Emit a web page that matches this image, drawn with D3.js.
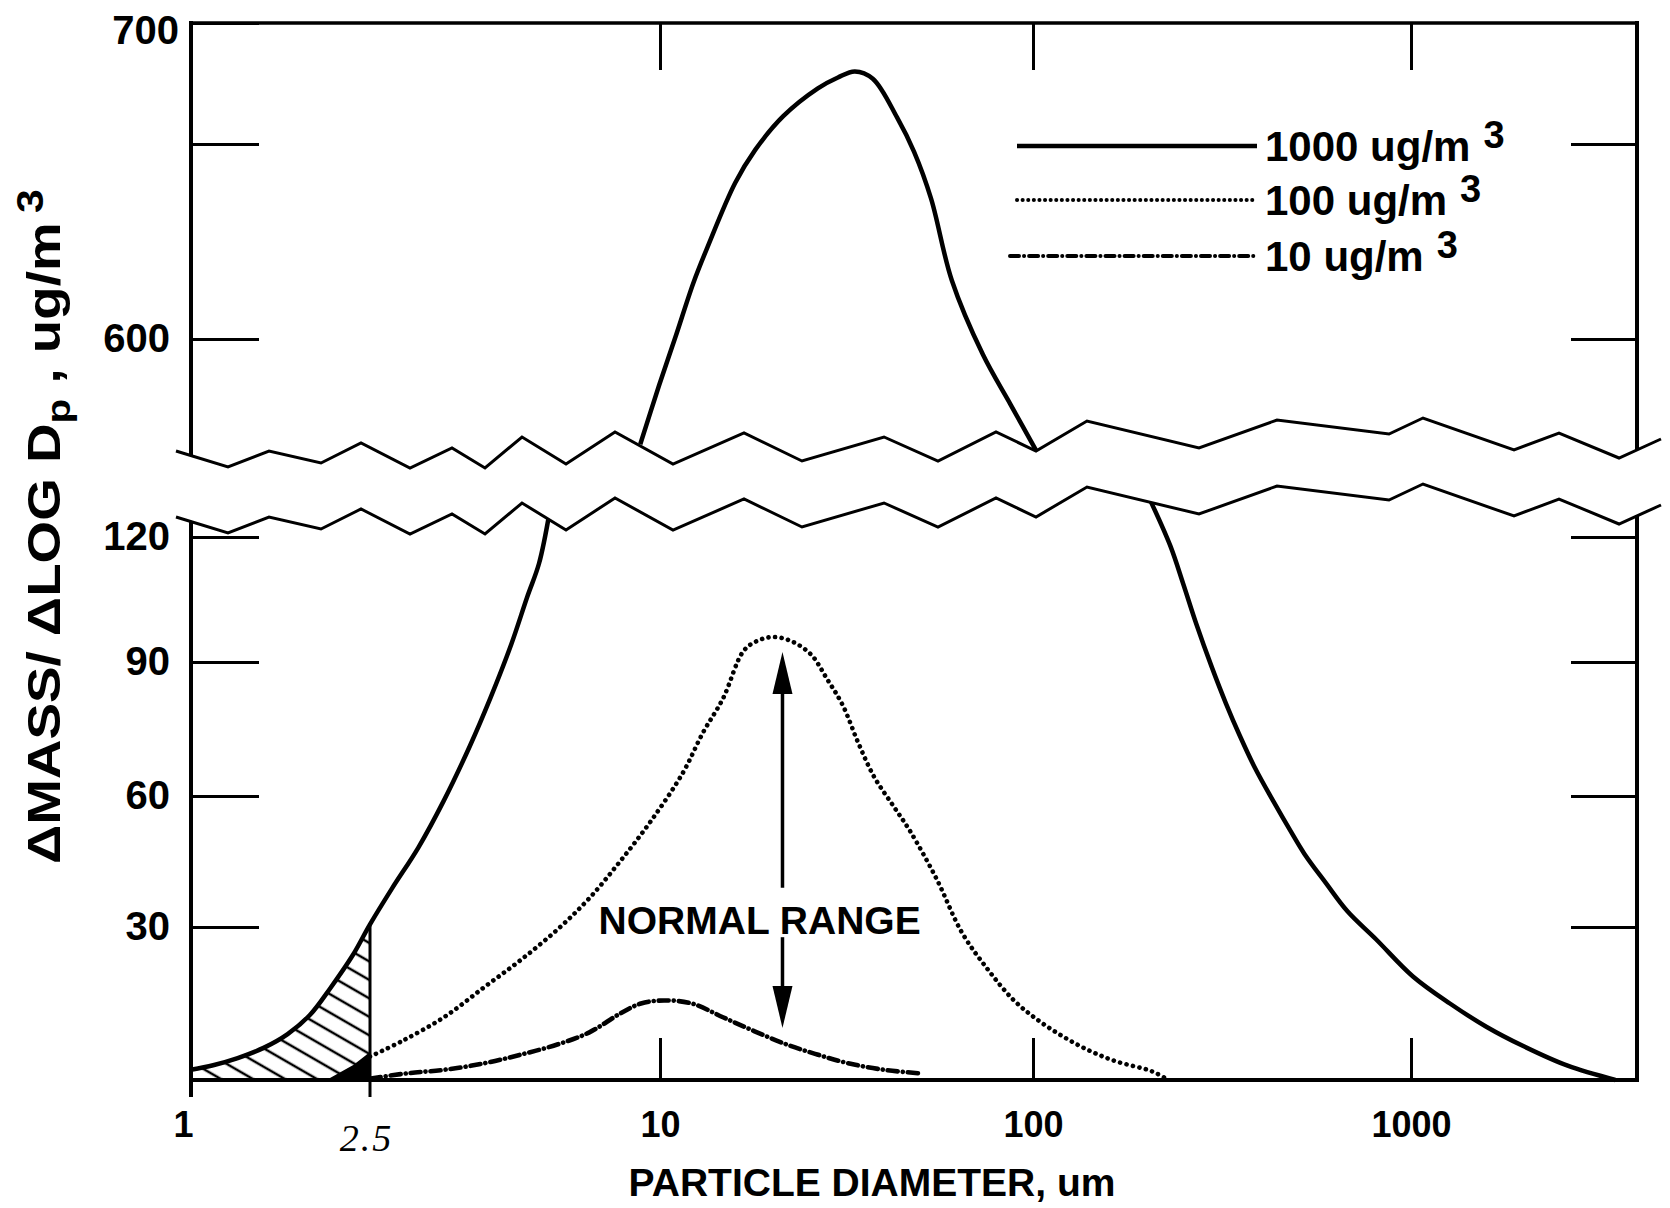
<!DOCTYPE html>
<meta charset="utf-8">

<!-- Load d3.js -->
<script src="https://d3js.org/d3.v7.min.js"></script>

<style>
  body { margin: 0; background: #fff; }
  text { font-family: "Liberation Sans", Arial, Helvetica, sans-serif; font-weight: bold; fill: #000; }
</style>

<div id="my_dataviz"></div>

<script>

// mass distribution, 1000 ug/m3 loading (diameter in um, dM/dlogDp in ug/m3)
var diam1000 = [1, 1.12, 1.27, 1.45, 1.64, 1.84, 2.04, 2.29, 2.5, 2.78, 3.15, 3.56, 4.03, 4.44, 4.91, 5.3, 5.61, 5.9,
                9.1, 9.95, 11.0, 12.3, 13.4, 15.9, 18.0, 21.4, 26.5, 30.0, 33.3, 37.2, 43.2, 48.0, 53.3, 60.6, 73.4, 87.3, 101.8,
                205, 231, 250, 270, 297, 324, 352, 387, 433, 480, 522, 595, 679, 808, 1012, 1268, 1588, 1991, 2603, 3484];
var mass1000 = [2.0, 2.9, 4.3, 6.3, 9.0, 12.8, 18.0, 24.5, 30.6, 38.9, 48.2, 59.0, 71.2, 81.8, 94.2, 105.6, 113.7, 126,
                573, 588, 600.5, 614.5, 623.5, 640, 648.5, 661.5, 673, 677.5, 680, 677, 661, 648, 636, 615, 596, 583, 571.5,
                128.5, 117.8, 108.6, 99.3, 88.9, 80.7, 73.6, 66.2, 58.7, 52.0, 46.8, 40.1, 33.6, 27.6, 20.3, 15.0, 10.4, 6.6, 2.8, 0];

// 100 ug/m3 loading
var diam100 = [2.5, 2.91, 3.56, 4.33, 5.15, 6.14, 7.12, 8.26, 9.58, 11.5, 13.04, 14.75, 16.8, 18.5, 20.2, 22.5, 25.4,
               28.0, 30.9, 34.0, 37.5, 42.4, 46.8, 55.0, 64.5, 75.8, 88.9, 103.7, 121.5, 142.4, 166.8, 206.5, 228];
var mass100 = [4.6, 7.6, 12.3, 18.3, 23.6, 29.6, 36.5, 45.0, 54.3, 65.1, 74.2, 81.8, 92.8, 95.3, 96.0, 95.0, 91.8,
               86.3, 80.3, 71.9, 64.3, 57.5, 52.0, 41.2, 28.9, 21.6, 15.6, 11.6, 8.3, 5.6, 3.6, 1.7, 0];

// 10 ug/m3 loading
var diam10 = [2.51, 2.98, 3.56, 4.33, 5.15, 6.14, 7.12, 8.26, 9.13, 10.25, 12.18, 14.75, 17.87, 21.8, 26.4, 31.9, 39.9, 49.8];
var mass10 = [0.3, 1.3, 2.0, 3.3, 5.0, 7.0, 9.3, 13.0, 15.0, 15.6, 15.0, 12.3, 9.6, 7.0, 5.0, 3.3, 2.0, 1.3];

// ink blot at the foot of the 2.5 um cut
var blobDiam = [2.0, 2.3, 2.5, 2.5];
var blobMass = [0, 3.0, 5.5, 0];

// normal range arrow (diameter, tail/tip values) and its label
var rangeDiam = 21.3;
var rangeUp = [39, 92.4];
var rangeDown = [28, 10.2];
var rangeLabel = "NORMAL RANGE";
var rangeLabelAt = [18.5, 28.6];

// axes
var xTicks = [1, 2.5, 10, 100, 1000];
var xTickLabels = ["1", "2.5", "10", "100", "1000"];
var yTicksLow = [30, 60, 90, 120];
var yTicksHigh = [600, 650, 700];
var yLabelsHigh = ["600", "", "700"];

var legendNames = ["1000 ug/m", "100 ug/m", "10 ug/m"];

// set the dimensions of the graph
var W = 1670, H = 1208;
var box = {left: 191, right: 1637, top: 23, bottom: 1080};

var svg = d3.select("#my_dataviz")
  .append("svg")
    .attr("width", W)
    .attr("height", H);

// hand-drawn log axis: decades are not quite even
var x = d3.scaleLog()
  .domain([1, 2.5, 10, 100, 1000, 4000])
  .range([box.left, 370, 660, 1033, 1411, 1638]);

// broken y axis: lower band 0-120, upper band 600-700
var yLow = d3.scaleLinear()
  .domain([0, 30, 60, 90, 120])
  .range([box.bottom, 927, 796, 662, 537]);
var yHigh = d3.scaleLinear()
  .domain([600, 650, 700])
  .range([339, 144, box.top]);

var pts1000 = d3.zip(diam1000, mass1000);
var pts100 = d3.zip(diam100, mass100);
var pts10 = d3.zip(diam10, mass10);

var smooth = d3.curveCatmullRom.alpha(0.5);

// hatched area (respirable part, below 2.5 um)
var defs = svg.append("defs");
defs.append("pattern")
    .attr("id", "hatch")
    .attr("patternUnits", "userSpaceOnUse")
    .attr("width", 40).attr("height", 16)
    .attr("patternTransform", "rotate(30)")
  .append("line")
    .attr("x1", 0).attr("x2", 40)
    .attr("y1", 8).attr("y2", 8)
    .attr("stroke", "#000")
    .attr("stroke-width", 2.6);

svg.append("path")
  .datum(pts1000.filter(function(d) { return d[0] <= 2.5; }))
  .attr("fill", "url(#hatch)")
  .attr("d", d3.area()
    .x(function(d) { return x(d[0]); })
    .y0(yLow(0))
    .y1(function(d) { return yLow(d[1]); })
    .curve(smooth));

svg.append("path")
  .datum(d3.zip(blobDiam, blobMass))
  .attr("fill", "#000")
  .attr("d", d3.line()
    .x(function(d) { return x(d[0]); })
    .y(function(d) { return yLow(d[1]); })
    .curve(d3.curveLinearClosed));

// 2.5 um cut line
svg.append("line")
  .attr("x1", x(2.5)).attr("x2", x(2.5))
  .attr("y1", box.bottom + 17)
  .attr("y2", yLow(mass1000[diam1000.indexOf(2.5)]))
  .attr("stroke", "#000")
  .attr("stroke-width", 3);

// the three distributions
var lowLine = d3.line()
  .defined(function(d) { return d[1] < 300; })
  .x(function(d) { return x(d[0]); })
  .y(function(d) { return yLow(d[1]); })
  .curve(smooth);
var highLine = d3.line()
  .defined(function(d) { return d[1] >= 300; })
  .x(function(d) { return x(d[0]); })
  .y(function(d) { return yHigh(d[1]); })
  .curve(smooth);

var styles = [
  {dash: null, width: 4.5, cap: "butt"},
  {dash: "0.1,6.5", width: 4.6, cap: "round"},
  {dash: "10,5,0.1,5", width: 4.6, cap: "round"}
];

[pts1000, pts100, pts10].forEach(function(pts, i) {
  [lowLine, highLine].forEach(function(gen) {
    svg.append("path")
      .datum(pts)
      .attr("fill", "none")
      .attr("stroke", "#000")
      .attr("stroke-width", styles[i].width)
      .attr("stroke-dasharray", styles[i].dash)
      .attr("stroke-linecap", styles[i].cap)
      .attr("stroke-linejoin", "round")
      .attr("d", gen);
  });
});

// frame
var frame = svg.append("g").attr("stroke", "#000").attr("fill", "none");
frame.append("line").attr("x1", box.left).attr("x2", box.right).attr("y1", box.top).attr("y2", box.top).attr("stroke-width", 3.5);
frame.append("line").attr("x1", box.left).attr("x2", box.right + 2).attr("y1", box.bottom).attr("y2", box.bottom).attr("stroke-width", 4);
frame.append("line").attr("x1", box.left).attr("x2", box.left).attr("y1", box.top - 2).attr("y2", box.bottom + 17).attr("stroke-width", 4);
frame.append("line").attr("x1", box.right).attr("x2", box.right).attr("y1", box.top - 2).attr("y2", box.bottom + 2).attr("stroke-width", 4);

// tick marks and labels
function styleAxis(g) {
  g.select(".domain").remove();
  g.selectAll(".tick line").attr("stroke", "#000").attr("stroke-width", 3);
  g.selectAll(".tick text")
    .style("font-family", "'Liberation Sans', Arial, sans-serif")
    .style("font-weight", "bold")
    .style("font-size", "36px")
    .attr("fill", "#000");
}

svg.append("g")
  .attr("transform", "translate(" + box.left + ",0)")
  .call(d3.axisLeft(yLow).tickValues(yTicksLow).tickSize(-68).tickPadding(21))
  .call(styleAxis)
  .call(function(g) { g.selectAll(".tick text").style("font-size", "40px"); });
svg.append("g")
  .attr("transform", "translate(" + box.left + ",0)")
  .call(d3.axisLeft(yHigh).tickValues(yTicksHigh).tickSize(-68).tickPadding(21)
    .tickFormat(function(d, i) { return yLabelsHigh[i]; }))
  .call(styleAxis)
  .call(function(g) {
    g.selectAll(".tick text").style("font-size", "40px");
    g.selectAll(".tick text").filter(function(d) { return d === 700; })
      .attr("x", -12).attr("dy", "0.5em");
  });
svg.append("g")
  .attr("transform", "translate(" + box.right + ",0)")
  .call(d3.axisRight(yLow).tickValues(yTicksLow).tickSize(-66).tickFormat(""))
  .call(styleAxis);
svg.append("g")
  .attr("transform", "translate(" + box.right + ",0)")
  .call(d3.axisRight(yHigh).tickValues([600, 650]).tickSize(-66).tickFormat(""))
  .call(styleAxis);

svg.append("g")
  .attr("transform", "translate(0," + box.bottom + ")")
  .call(d3.axisBottom(x).tickValues(xTicks).tickSize(-42).tickPadding(31)
    .tickFormat(function(d, i) { return xTickLabels[i]; }))
  .call(styleAxis)
  .call(function(g) {
    // 1 and 2.5 have no inner tick
    g.selectAll(".tick line").filter(function(d) { return d < 10; }).remove();
    g.selectAll(".tick text").filter(function(d) { return d === 1; }).attr("x", -8);
    g.selectAll(".tick text").filter(function(d) { return d === 2.5; })
      .style("font-family", "'Liberation Serif', serif")
      .style("font-style", "italic")
      .style("font-weight", "normal")
      .style("font-size", "38px")
      .style("letter-spacing", "2px")
      .attr("x", -4)
      .attr("y", 44);
  });
svg.append("g")
  .attr("transform", "translate(0," + box.top + ")")
  .call(d3.axisTop(x).tickValues([10, 100, 1000]).tickSize(-47).tickFormat(""))
  .call(styleAxis);

// axis break: white band between two zig-zag lines
var zigX = [176, 228, 269, 321, 361, 410, 452, 485, 522, 566, 615, 673, 744, 802, 884, 938, 996, 1036, 1087, 1199, 1277, 1389, 1423, 1514, 1559, 1619, 1661];
var zigY = [451, 467, 451, 463, 443, 468, 448, 468, 437, 464, 432, 464, 433, 461, 437, 461, 432, 451, 421, 448, 420, 434, 418, 450, 433, 458, 439];
var gap = 66;
var upperZig = d3.zip(zigX, zigY);
var lowerZig = upperZig.map(function(p) { return [p[0], p[1] + gap]; });

svg.append("path")
  .attr("fill", "#fff")
  .attr("d", d3.line()(upperZig.concat(lowerZig.slice().reverse())) + "Z");
[upperZig, lowerZig].forEach(function(z) {
  svg.append("path")
    .attr("fill", "none")
    .attr("stroke", "#000")
    .attr("stroke-width", 3)
    .attr("stroke-linejoin", "miter")
    .attr("d", d3.line()(z));
});

// normal range arrows
function arrow(v0, v1) {
  var xa = x(rangeDiam), ya = yLow(v0), yb = yLow(v1);
  var dir = yb < ya ? 1 : -1;
  svg.append("line")
    .attr("x1", xa).attr("x2", xa)
    .attr("y1", ya).attr("y2", yb + dir * 30)
    .attr("stroke", "#000").attr("stroke-width", 3.5);
  svg.append("path")
    .attr("fill", "#000")
    .attr("d", "M" + xa + "," + yb + "L" + (xa - 10) + "," + (yb + dir * 42) +
               "L" + (xa + 10) + "," + (yb + dir * 42) + "Z");
}
arrow(rangeUp[0], rangeUp[1]);
arrow(rangeDown[0], rangeDown[1]);

svg.append("text")
  .attr("x", x(rangeLabelAt[0]))
  .attr("y", yLow(rangeLabelAt[1]))
  .attr("text-anchor", "middle")
  .style("font-size", "39px")
  .text(rangeLabel);

// legend
var legend = svg.append("g");
var legendY = [146, 200, 256];
legendNames.forEach(function(name, i) {
  legend.append("line")
    .attr("x1", i === 2 ? 1010 : 1017).attr("x2", 1257)
    .attr("y1", legendY[i]).attr("y2", legendY[i])
    .attr("stroke", "#000")
    .attr("stroke-width", i === 0 ? 4.5 : 4)
    .attr("stroke-linecap", i === 0 ? "butt" : "round")
    .attr("stroke-dasharray", i === 1 ? "0.1,5.5" : (i === 2 ? "9,5,0.1,5" : null));
  var t = legend.append("text")
    .attr("x", 1265)
    .attr("y", legendY[i] + 15)
    .style("font-size", "42px");
  t.append("tspan").text(name);
  t.append("tspan").attr("dx", 13).attr("dy", -13).style("font-size", "38px").text("3");
});

// axis titles
svg.append("text")
  .attr("x", 872)
  .attr("y", 1196)
  .attr("text-anchor", "middle")
  .style("font-size", "39px")
  .text("PARTICLE DIAMETER, um");

var yTitle = svg.append("text")
  .attr("transform", "translate(60,864) rotate(-90) scale(1.19,1)")
  .style("font-size", "46px");
yTitle.append("tspan").text("\u0394MASS/ \u0394LOG D");
yTitle.append("tspan").attr("dy", 10).style("font-size", "34px").text("p");
yTitle.append("tspan").attr("dy", -10).text(" , ug/m");
yTitle.append("tspan").attr("dx", 8).attr("dy", -17).style("font-size", "36px").text("3");

</script>
